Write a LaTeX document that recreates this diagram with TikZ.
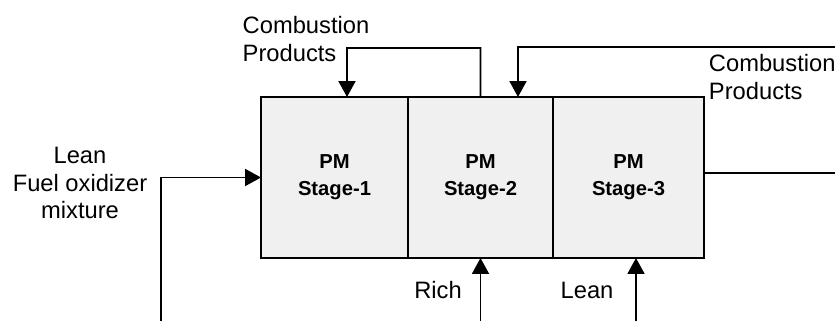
\documentclass[tikz,border=0pt]{standalone}
\usepackage{fontspec}
\setmainfont{Liberation Sans}
\usetikzlibrary{arrows.meta}

\begin{document}
\begin{tikzpicture}[x=0.02cm, y=-0.02cm, line width=1.1pt,
  stage/.style={draw, line width=1.6pt, fill=gray!12, outer sep=0pt, inner sep=0pt,
    minimum height=3.22cm, align=center,
    font=\fontsize{11.5}{15.3}\selectfont\bfseries},
  lbl/.style={align=center, inner sep=0pt, font=\fontsize{13.5}{15.9}\selectfont},
  flow/.style={-{Triangle[length=0.32cm, width=0.34cm]}}]
  %% 枠
  \useasboundingbox (0,0) rectangle (835,321);

  %% 3 stages
  \node[stage, minimum width=2.94cm] (s1) at (334.5,177.5) {PM\\Stage-1};
  \node[stage, minimum width=2.90cm] (s2) at (480.5,177.5) {PM\\Stage-2};
  \node[stage, minimum width=3.02cm] (s3) at (628.5,177.5) {PM\\Stage-3};

  %% inlet mixture
  \coordinate (in0) at (161,321);
  \draw[flow] (in0) |- (s1.west);
  \node[lbl] (mix) at (80,183) {Lean\\Fuel oxidizer\\mixture};

  %% recirculation stage-2 -> stage-1
  \coordinate (c1) at (347,48);
  \draw[flow] (s2.north) |- (c1) -- ([xshift=0.25cm]s1.north);
  \node[lbl, align=left] (cp1) at (306,39) {Combustion\\Products};

  %% recirculation from the right -> stage-2
  \coordinate (c2) at (835,47);
  \draw[flow] (c2) -| ([xshift=0.75cm]s2.north);
  \node[lbl, align=left, anchor=west] (cp2) at (708,77) {Combustion\\Products};

  %% exhaust
  \coordinate (out) at (835,173);
  \draw ([yshift=0.09cm]s3.east) -- (out);

  %% secondary fuel
  \coordinate (rich0) at (480.5,321);
  \draw[flow] (rich0) -- (s2.south);
  \node[lbl] (rich) at (438,290) {Rich};

  \coordinate (lean0) at (636,321);
  \draw[flow] (lean0) -- ([xshift=0.15cm]s3.south);
  \node[lbl] (lean) at (587,290) {Lean};
\end{tikzpicture}
\end{document}
